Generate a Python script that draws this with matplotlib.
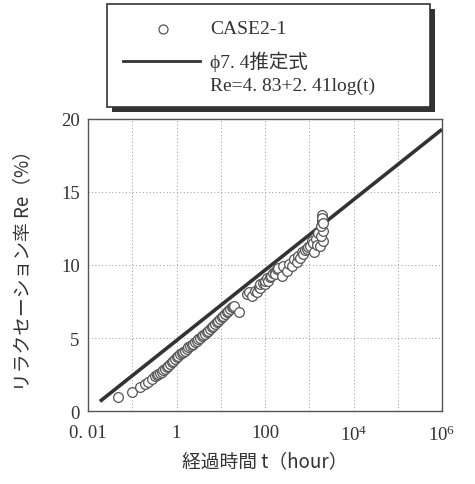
"""Relaxation ratio vs elapsed time (CASE2-1)."""

import numpy as np
import matplotlib
matplotlib.use('Agg')
import matplotlib.pyplot as plt
from matplotlib.patches import Rectangle
from matplotlib.lines import Line2D

plt.rcParams['font.family'] = ['Liberation Serif', 'Noto Sans CJK JP', 'DejaVu Sans']
plt.rcParams['mathtext.fontset'] = 'custom'
plt.rcParams['mathtext.rm'] = 'Liberation Serif'

# measured data, CASE2-1 (t in hours, Re in %)
T_DATA = [0.047, 0.098, 0.15, 0.195, 0.23, 0.275, 0.32, 0.36, 0.39, 0.43,
          0.46, 0.50, 0.55, 0.60, 0.65, 0.71, 0.78, 0.85, 0.92, 1.0,
          1.1, 1.2, 1.31, 1.42, 1.55, 1.7, 1.85, 2.0, 2.2, 2.4,
          2.6, 2.85, 3.1, 3.4, 3.7, 4.0, 4.4, 4.8, 5.2, 5.7,
          6.2, 6.8, 7.4, 8.1, 8.8, 9.6, 10.5, 11.5, 12.5, 13.6,
          14.8, 16.2, 17.7, 18.6, 19.5, 26,
          39, 44, 50, 59, 65, 72, 77, 78, 88, 100,
          100, 110, 118, 130, 140, 150, 168, 168, 185, 200,
          240, 260, 310, 350, 400, 450, 520, 560, 620, 680,
          740, 800, 880, 950, 1040, 1130, 1200, 1300, 1400, 1500,
          1600, 1740, 2050, 1880, 2050, 1880, 1900, 1900, 1950, 2000]
RE_DATA = [0.94, 1.32, 1.62, 1.85, 2.0, 2.19, 2.37, 2.45, 2.53, 2.61,
           2.69, 2.78, 2.88, 2.99, 3.1, 3.21, 3.33, 3.45, 3.56, 3.67,
           3.79, 3.88, 3.97, 4.05, 4.13, 4.25, 4.36, 4.44, 4.52, 4.61,
           4.7, 4.81, 4.93, 5.02, 5.12, 5.19, 5.27, 5.39, 5.5, 5.62,
           5.73, 5.85, 5.96, 6.07, 6.18, 6.3, 6.42, 6.53, 6.64, 6.76,
           6.87, 6.99, 7.1, 7.15, 7.2, 6.76,
           8.0, 8.15, 7.9, 8.24, 8.13, 8.5, 8.4, 8.7, 8.8, 8.7,
           8.92, 9.1, 8.92, 9.15, 9.27, 9.45, 9.5, 9.38, 9.7, 9.8,
           9.27, 9.9, 9.6, 10.1, 9.95, 10.4, 10.2, 10.6, 10.5, 10.9,
           10.75, 11.0, 11.1, 11.2, 11.3, 11.66, 11.5, 10.9, 11.8, 11.4,
           12.2, 11.3, 11.66, 12.0, 12.35, 12.7, 13.03, 13.4, 13.2, 12.9]

# fitted line phi7.4: Re = 4.83 + 2.41 log(t)
FIT_A = 4.83
FIT_B = 2.41
T_FIT = [0.0186, 1.0e6]

XTICKS = [0.01, 1, 100, 1e4, 1e6]
XTICK_LABELS = ['0. 01', '1', '100', r'$\mathregular{10^{4}}$', r'$\mathregular{10^{6}}$']
YTICKS = [0, 5, 10, 15, 20]

LINE_COLOR = '#333333'
GRID_COLOR = '#999999'
TEXT_COLOR = '#333333'


def run():
    fig = plt.figure(figsize=(4.75, 4.85), dpi=100)
    ax = fig.add_axes([0.1853, 0.1505, 0.7453, 0.6021])

    t_fit = np.array(T_FIT)
    ax.plot(t_fit, FIT_A + FIT_B * np.log10(t_fit), color=LINE_COLOR,
            lw=2.6, zorder=3, solid_capstyle='butt')
    ax.plot(T_DATA, RE_DATA, 'o', ms=7, mfc='white', mec='#555555',
            mew=0.9, zorder=4, clip_on=False)

    ax.set_xscale('log')
    ax.set_xlim(0.01, 1e6)
    ax.set_ylim(0, 20)
    ax.set_xticks([10.0 ** k for k in range(-2, 7)])
    ax.set_xticklabels([''] * 9)
    ax.xaxis.set_minor_locator(matplotlib.ticker.NullLocator())
    ax.set_yticks(YTICKS)
    ax.tick_params(length=0, labelsize=13.5, colors=TEXT_COLOR, pad=6)
    ax.grid(True, which='major', color=GRID_COLOR, ls=(0, (1, 2.5)), lw=0.7)
    for sp in ax.spines.values():
        sp.set_color('#555555')
        sp.set_linewidth(1.0)

    # decade labels only on every second decade
    for xv, lab in zip(XTICKS, XTICK_LABELS):
        ax.text(xv, -0.9, lab, transform=ax.transData,
                ha='center', va='top', fontsize=13.5, color=TEXT_COLOR)

    ax.set_xlabel('経過時間 t（hour）', fontsize=13.5, color=TEXT_COLOR,
                  family=['Noto Sans CJK JP', 'DejaVu Sans'], labelpad=22)
    ax.set_ylabel('リラクセーション率 Re（%）', fontsize=13.5, color=TEXT_COLOR,
                  family=['Noto Sans CJK JP', 'DejaVu Sans'], labelpad=20)

    # legend box with shadow, drawn by hand
    W, H = 475.0, 485.0
    x0, y0, x1, y1 = 107, 5, 430, 108
    fig.patches.append(Rectangle((x0 / W + 5 / W, 1 - (y1 + 5) / H),
                                 (x1 - x0) / W, (y1 - y0) / H,
                                 transform=fig.transFigure, fc='#333333',
                                 ec='none', zorder=1))
    fig.patches.append(Rectangle((x0 / W, 1 - y1 / H), (x1 - x0) / W,
                                 (y1 - y0) / H, transform=fig.transFigure,
                                 fc='white', ec='#333333', lw=1.2, zorder=2))
    fig.lines.append(Line2D([163 / W], [1 - 30 / H], marker='o', ms=6.5,
                            mfc='white', mec='#555555', mew=0.9,
                            transform=fig.transFigure, zorder=3))
    fig.lines.append(Line2D([123 / W, 200 / W], [1 - 62 / H, 1 - 62 / H],
                            color=LINE_COLOR, lw=2.0,
                            transform=fig.transFigure, zorder=3))
    fig.text(210 / W, 1 - 30 / H, 'CASE2-1', fontsize=14, va='center',
             color=TEXT_COLOR, zorder=3)
    fig.text(210 / W, 1 - 62 / H, 'ϕ7. 4推定式', fontsize=14, va='center',
             color=TEXT_COLOR, zorder=3,
             family=['Liberation Serif', 'Noto Sans CJK JP', 'DejaVu Sans'])
    fig.text(210 / W, 1 - 86 / H, 'Re=4. 83+2. 41log(t)', fontsize=14,
             va='center', color=TEXT_COLOR, zorder=3)

    fig.savefig('out.png', dpi=100)


if __name__ == "__main__":
    run()
